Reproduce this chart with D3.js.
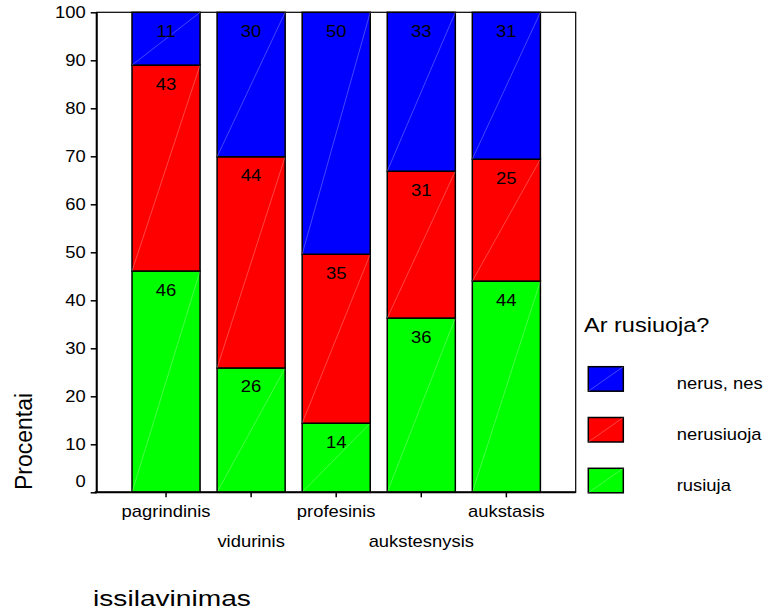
<!DOCTYPE html>
<html>
<head>
<meta charset="utf-8">
<script src="https://cdn.jsdelivr.net/npm/d3@7"></script>
<style>
  body { margin: 0; background: #fff; }
  text { font-family: Arial, "Liberation Sans", sans-serif; fill: #000; }
</style>
</head>
<body>
<div id="chart"></div>
<script>
// data (percent of each education group)
const categories = ["pagrindinis", "vidurinis", "profesinis", "aukstesnysis", "aukstasis"];
const seriesNames = ["rusiuja", "nerusiuoja", "nerus, nes"];
const rusiuja = [46.1, 25.9, 14.4, 36.3, 44.0];
const nerusiuoja = [42.9, 44.0, 35.2, 30.6, 25.4];
const nerusNes = [11.0, 30.1, 50.4, 33.1, 30.6];
const yTicks = [0, 10, 20, 30, 40, 50, 60, 70, 80, 90, 100];
const colors = ["#00ff00", "#ff0000", "#0000ff"];

const svgWidth = 765;
const svgHeight = 612;
const margin = { top: 12.3, left: 96.7 };
const width = 479;
const height = 480;
const sx = 1.15; // text looks horizontally stretched in the original

const svg = d3.select("#chart")
    .append("svg")
    .attr("width", svgWidth)
    .attr("height", svgHeight);

const chartGroup = svg.append("g")
    .attr("transform", `translate(${margin.left}, ${margin.top})`);

// build rows for the stack
const rows = categories.map((c, i) => ({
  cat: c,
  rusiuja: rusiuja[i],
  nerusiuoja: nerusiuoja[i],
  "nerus, nes": nerusNes[i]
}));
const stacked = d3.stack().keys(seriesNames)(rows);

const x = d3.scaleBand()
    .domain(categories)
    .range([0, width])
    .paddingInner(0.2)
    .paddingOuter(0.415);

const y = d3.scaleLinear()
    .domain([0, 100])
    .range([height, 0]);

// frame (top + right)
chartGroup.append("rect")
    .attr("width", width)
    .attr("height", height)
    .attr("fill", "none")
    .attr("stroke", "#000")
    .attr("stroke-width", 1.2);

// bars
const layers = chartGroup.selectAll("g.layer")
    .data(stacked)
    .enter()
    .append("g")
    .attr("class", "layer")
    .attr("fill", (d, i) => colors[i]);

const segs = layers.selectAll("g.seg")
    .data(d => d.map(p => ({ cat: p.data.cat, y0: p[0], y1: p[1] })))
    .enter()
    .append("g")
    .attr("class", "seg");

segs.append("rect")
    .attr("x", d => x(d.cat))
    .attr("y", d => y(d.y1))
    .attr("width", x.bandwidth())
    .attr("height", d => y(d.y0) - y(d.y1))
    .attr("stroke", "#000")
    .attr("stroke-width", 1.5);

// faint diagonal line through each segment
segs.append("line")
    .attr("x1", d => x(d.cat))
    .attr("y1", d => y(d.y0))
    .attr("x2", d => x(d.cat) + x.bandwidth())
    .attr("y2", d => y(d.y1))
    .attr("stroke", "#fff")
    .attr("stroke-opacity", 0.45)
    .attr("stroke-width", 0.6);

segs.append("text")
    .attr("transform", d => `translate(${x(d.cat) + x.bandwidth() / 2}, ${y(d.y1) + 24.5}) scale(1.12,1)`)
    .attr("text-anchor", "middle")
    .style("font-size", "16.5px")
    .text(d => d3.format(".0f")(d.y1 - d.y0));

// y axis
const leftAxis = d3.axisLeft(y).tickValues(yTicks).tickSize(6).tickPadding(5);
const yAxis = chartGroup.append("g").call(leftAxis);
yAxis.select(".domain").attr("stroke-width", 2).attr("d", `M0,${height}V0`);
yAxis.selectAll(".tick line").attr("stroke-width", 1.5);
yAxis.selectAll(".tick text")
    .style("font-size", "16px")
    .attr("x", -11 / sx)
    .attr("transform", `scale(${sx},1)`)
    .attr("dy", d => d === 0 ? "-0.35em" : "0.35em");

// x axis
const bottomAxis = d3.axisBottom(x).tickSize(5).tickPadding(0).tickSizeOuter(0);
const xAxis = chartGroup.append("g")
    .attr("transform", `translate(0, ${height})`)
    .call(bottomAxis);
xAxis.select(".domain").attr("stroke-width", 2).attr("d", `M-2,0H${width}`);
xAxis.selectAll(".tick line").attr("stroke-width", 1.5);
xAxis.selectAll(".tick text")
    .style("font-size", "16px")
    .attr("dy", null)
    .attr("y", (d, i) => i % 2 === 0 ? 25.2 : 54.7)
    .attr("transform", `scale(${sx},1)`);

// axis titles
svg.append("text")
    .attr("transform", `translate(31.7, 441.5) rotate(-90)`)
    .attr("text-anchor", "middle")
    .style("font-size", "23px")
    .text("Procentai");

svg.append("text")
    .attr("transform", `translate(93, 606) scale(1.28,1)`)
    .style("font-size", "22px")
    .text("issilavinimas");

// legend
const legend = svg.append("g").attr("transform", "translate(584, 0)");
legend.append("text")
    .attr("transform", `translate(0, 331.5) scale(1.12,1)`)
    .style("font-size", "21px")
    .text("Ar rusiuoja?");

const legendOrder = [2, 1, 0];
const items = legend.selectAll("g.item")
    .data(legendOrder)
    .enter()
    .append("g")
    .attr("class", "item")
    .attr("transform", (d, i) => `translate(4.3, ${366.7 + i * 50.8})`);

items.append("rect")
    .attr("width", 35)
    .attr("height", 24.5)
    .attr("fill", d => colors[d])
    .attr("stroke", "#000")
    .attr("stroke-width", 1.5);

items.append("line")
    .attr("x1", 0).attr("y1", 24.5)
    .attr("x2", 35).attr("y2", 0)
    .attr("stroke", "#fff")
    .attr("stroke-opacity", 0.45)
    .attr("stroke-width", 0.6);

items.append("text")
    .attr("transform", `translate(88.4, 22.5) scale(${sx},1)`)
    .style("font-size", "16px")
    .text(d => seriesNames[d]);
</script>
</body>
</html>
